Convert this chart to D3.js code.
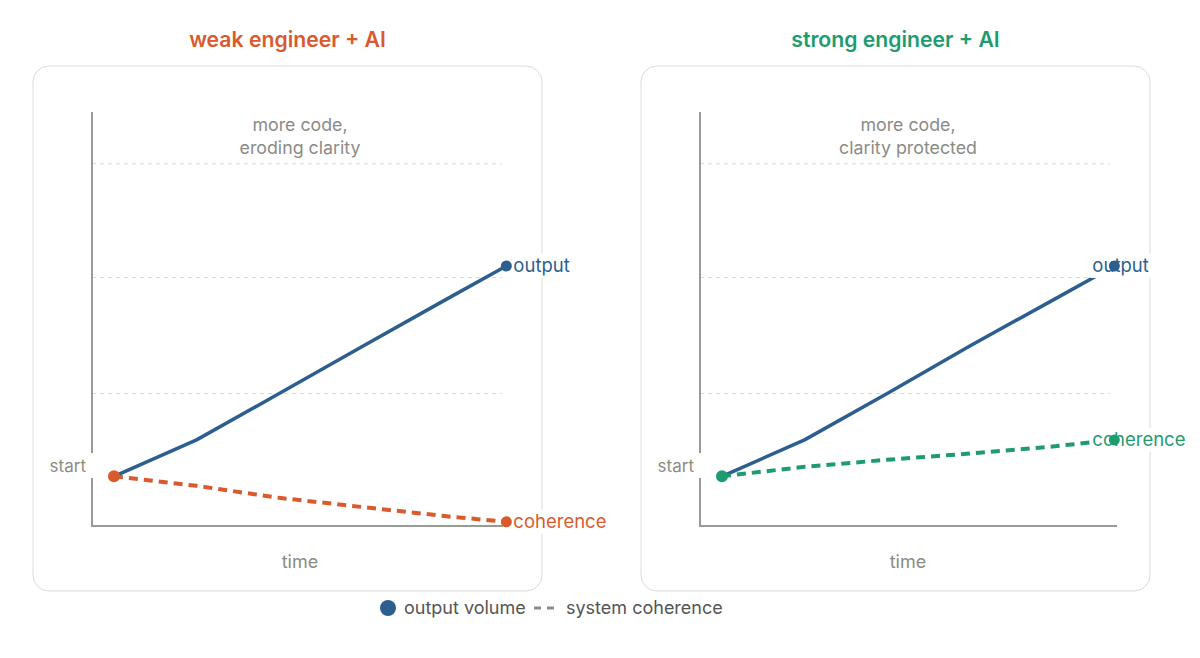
<!DOCTYPE html>
<html><head><meta charset="utf-8">
<script src="https://cdn.jsdelivr.net/npm/d3@7/dist/d3.min.js"></script>
<style>
html,body{margin:0;padding:0;background:#fff;}
svg{display:block;font-family:Inter,"Noto Sans",sans-serif;}
</style></head>
<body><svg id="c" width="1200" height="658"></svg>
<script>
// ---- data ----
const panelTitles = ["weak engineer + AI", "strong engineer + AI"];
const panelNotes = [["more code,", "eroding clarity"], ["more code,", "clarity protected"]];
const time = [0, 2, 4, 6, 8, 9.5];
const outputWeak = [1.2, 2.08, 3.2, 4.33, 5.45, 6.28];
const coherenceWeak = [1.2, 0.97, 0.68, 0.46, 0.24, 0.1];
const outputStrong = [1.2, 2.08, 3.2, 4.35, 5.45, 6.28];
const coherenceStrong = [1.2, 1.43, 1.6, 1.75, 1.92, 2.08];
const gridValues = [3.2, 6.0, 8.75];
const seriesLabels = ["output", "coherence"];
const legendLabels = ["output volume", "system coherence"];
const axisLabels = {x: "time", start: "start"};

// ---- style ----
const C = {blue: "#2d5f8e", orange: "#d95a2d", green: "#1f9b70", gray: "#8b8b85",
  axis: "#9a9a94", grid: "#d9d9d3", card: "#dcdcd5", legend: "#555"};
const panels = [
  {ox: 0, title: panelTitles[0], note: panelNotes[0], out: outputWeak, coh: coherenceWeak, col: C.orange, labelDx: 7, axisEnd: 503, gridEnd: 502},
  {ox: 608, title: panelTitles[1], note: panelNotes[1], out: outputStrong, coh: coherenceStrong, col: C.green, labelDx: -22, axisEnd: 1117, gridEnd: 1110}
];

const svg = d3.select("#c");

panels.forEach(p => {
  const g = svg.append("g");
  const cardX = 33 + p.ox;
  const axisX = 92 + p.ox;
  const x = d3.scaleLinear().domain([0, 10]).range([114 + p.ox, 527 + p.ox]);
  const y = d3.scaleLinear().domain([0, 10]).range([526, 112]);

  g.append("text").attr("x", cardX + 254.5).attr("y", 47).attr("text-anchor", "middle")
    .attr("font-size", 21.2).attr("font-weight", 600).attr("fill", p.col).text(p.title);

  g.append("rect").attr("x", cardX).attr("y", 66).attr("width", 509).attr("height", 525)
    .attr("rx", 16).attr("fill", "#fff").attr("stroke", C.card).attr("stroke-width", 1);

  // grid
  g.selectAll(".grid").data(gridValues).join("line")
    .attr("x1", axisX).attr("x2", p.gridEnd).attr("y1", d => y(d)).attr("y2", d => y(d))
    .attr("stroke", C.grid).attr("stroke-width", 1).attr("stroke-dasharray", "4,4");

  // axes
  g.append("line").attr("x1", axisX).attr("x2", axisX).attr("y1", y(10)).attr("y2", 527)
    .attr("stroke", C.axis).attr("stroke-width", 2);
  g.append("line").attr("x1", axisX - 1).attr("x2", p.axisEnd).attr("y1", 526).attr("y2", 526)
    .attr("stroke", C.axis).attr("stroke-width", 2);

  // start label with background
  g.append("rect").attr("x", axisX - 50).attr("y", 453).attr("width", 52).attr("height", 25).attr("fill", "#fff");
  g.append("text").attr("x", axisX - 6).attr("y", 466).attr("dy", "0.35em").attr("text-anchor", "end")
    .attr("font-size", 17).attr("fill", C.gray).text(axisLabels.start);

  // notes
  p.note.forEach((t, i) => g.append("text").attr("x", axisX + 208).attr("y", 125 + i * 23)
    .attr("dy", "0.35em").attr("text-anchor", "middle").attr("font-size", 17.8).attr("fill", C.gray).text(t));

  g.append("text").attr("x", axisX + 208).attr("y", 562).attr("dy", "0.35em").attr("text-anchor", "middle")
    .attr("font-size", 18).attr("fill", C.gray).text(axisLabels.x);

  const line = d3.line().x((d, i) => x(time[i])).y(d => y(d));
  g.append("path").attr("d", line(p.out)).attr("fill", "none").attr("stroke", C.blue)
    .attr("stroke-width", 3.5).attr("stroke-linejoin", "round");
  g.append("path").attr("d", line(p.coh)).attr("fill", "none").attr("stroke", p.col)
    .attr("stroke-width", 4).attr("stroke-dasharray", "9,6");

  const last = time.length - 1;
  const ends = [{v: p.out[last], c: C.blue, t: seriesLabels[0]}, {v: p.coh[last], c: p.col, t: seriesLabels[1]}];
  ends.forEach(e => {
    const tx = x(time[last]) + p.labelDx, ty = y(e.v);
    const txt = g.append("text").attr("x", tx).attr("y", ty).attr("dy", "0.35em")
      .attr("font-size", 18.5).attr("fill", e.c).text(e.t);
    const bb = txt.node().getBBox();
    g.insert("rect", () => txt.node()).attr("x", bb.x - 2).attr("y", ty - 12).attr("width", bb.width + 4)
      .attr("height", 24).attr("fill", "#fff");
  });
  // dots
  ends.forEach(e => g.append("circle").attr("cx", x(time[last])).attr("cy", y(e.v)).attr("r", 5.5).attr("fill", e.c));
  g.append("circle").attr("cx", x(time[0])).attr("cy", y(p.coh[0])).attr("r", 6).attr("fill", p.col);
});

// legend
const lg = svg.append("g");
lg.append("circle").attr("cx", 388).attr("cy", 608).attr("r", 8).attr("fill", C.blue);
lg.append("text").attr("x", 404).attr("y", 608).attr("dy", "0.35em").attr("font-size", 18)
  .attr("fill", C.legend).text(legendLabels[0]);
lg.append("line").attr("x1", 534).attr("x2", 555).attr("y1", 608).attr("y2", 608)
  .attr("stroke", "#8c8c8c").attr("stroke-width", 3).attr("stroke-dasharray", "7,6");
lg.append("text").attr("x", 566).attr("y", 608).attr("dy", "0.35em").attr("font-size", 18)
  .attr("fill", C.legend).text(legendLabels[1]);
</script></body></html>
